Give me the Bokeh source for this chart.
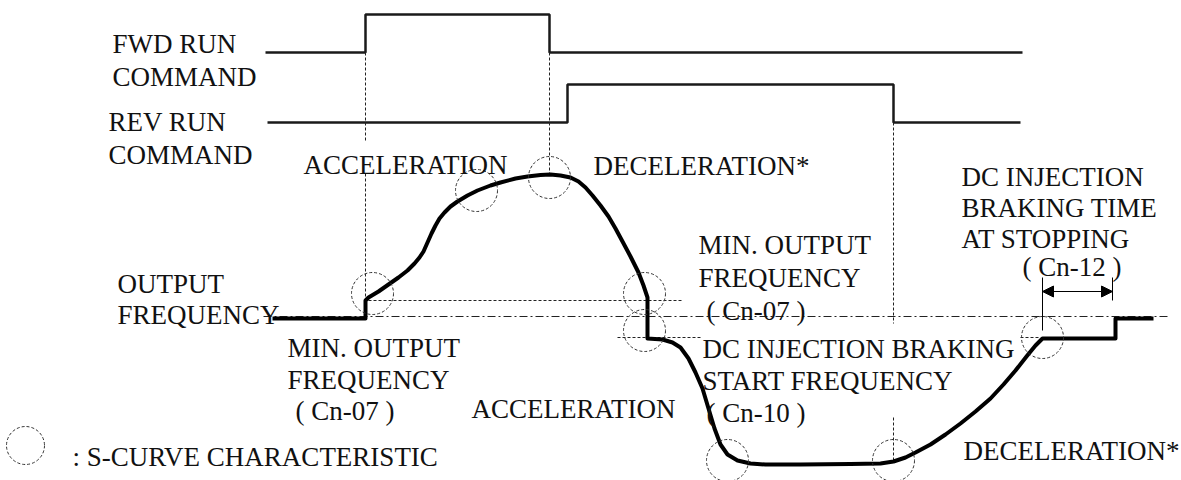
from bokeh.plotting import figure
from bokeh.models import Range1d, Arrow, NormalHead, ColumnDataSource
from bokeh.core.properties import value
from bokeh.embed import file_html
from bokeh.resources import INLINE

# ---- data (diagram units = screen pixels of the reference) ----
fwd_t = [265, 365, 365, 549, 549, 1022]
fwd_level = [52, 52, 14, 14, 52, 52]
rev_t = [267, 567, 567, 893, 893, 1020]
rev_level = [122, 122, 84, 84, 122, 122]

freq_t = [272, 365, 365, 368, 378, 388, 398, 407, 414, 419, 423, 427, 431, 435, 439, 444,
          450, 457, 467, 477, 490, 500, 515, 527, 540, 550, 560, 570, 578, 585, 592, 600,
          608, 615, 622, 630, 638, 643, 647, 647, 662, 672, 680, 688, 695, 702, 708, 714,
          720, 727, 737, 750, 765, 800, 850, 880, 893, 905, 915, 930, 945, 960, 975, 990,
          1003, 1015, 1026, 1035, 1042, 1115, 1115, 1153]
freq_level = [318, 318, 300, 297, 291, 284, 277, 270, 263, 257, 251, 242, 233, 225, 218, 212,
              206, 201, 195, 190, 185, 182, 178, 176, 174.5, 174, 175, 177, 181, 187, 195, 205,
              216, 228, 241, 256, 272, 285, 297, 338, 339, 342, 347, 358, 372, 388, 408, 428,
              444, 454, 460, 463, 464, 464, 463.5, 463, 461, 457, 452, 444, 434, 423, 411, 398,
              384, 370, 356, 345, 338, 338, 318, 318]

zero_level = 316
zero_t = [263, 1168]
min_freq_level = 300
min_freq_t = [368, 682]
dc_start_level = 337
dc_start_t1 = [617, 700]
dc_start_t2 = [1020, 1040]

marker_x = [365, 365, 549, 893, 893]
marker_y0 = [52, 173, 52, 122, 417]
marker_y1 = [140, 300, 174, 323, 462]

scurve_x = [372, 476, 549, 644, 644, 727, 893, 1042]
scurve_y = [293, 190, 177, 293, 330, 460, 460, 337]
scurve_r = 21

brake_t = [1042, 1112]
brake_tick_top = 277
brake_tick_bottom = [330, 300]
brake_arrow_level = 291

labels = ["FWD RUN", "COMMAND", "REV RUN", "COMMAND", "ACCELERATION", "DECELERATION*",
          "DC INJECTION", "BRAKING TIME", "AT STOPPING", "( Cn-12 )",
          "MIN. OUTPUT", "FREQUENCY", "( Cn-07 )", "OUTPUT", "FREQUENCY",
          "MIN. OUTPUT", "FREQUENCY", "( Cn-07 )", "ACCELERATION",
          "DC INJECTION BRAKING", "START FREQUENCY", "( Cn-10 )", "DECELERATION*",
          ": S-CURVE CHARACTERISTIC"]
label_x = [112, 112, 108, 108, 303, 593, 961, 961, 961, 1022,
           698, 698, 706, 117, 117, 287, 287, 295, 471,
           702, 702, 706, 963, 72]
label_y = [43, 76, 121, 154, 164, 165, 176, 207, 238, 266,
           244, 277, 310, 283, 314, 347, 379, 410, 408,
           348, 380, 412, 450, 456]

legend_x = [25]
legend_y = [445]

W, H = 1181, 480
p = figure(width=W, height=H, x_range=Range1d(0, W), y_range=Range1d(H, 0),
           output_backend="svg", toolbar_location=None, min_border=0,
           x_axis_location=None, y_axis_location=None)
p.grid.visible = False
p.outline_line_color = None
p.background_fill_color = "white"
p.border_fill_color = "white"

# command signals
p.line(fwd_t, fwd_level, line_color="#1a1a1a", line_width=2.5)
p.line(rev_t, rev_level, line_color="#1a1a1a", line_width=2.5)

# reference lines
p.line(zero_t, [zero_level] * 2, line_color="#222", line_width=1, line_dash="8 3 2 3")
p.line(min_freq_t, [min_freq_level] * 2, line_color="#222", line_width=1, line_dash="3 2")
p.line(dc_start_t1, [dc_start_level] * 2, line_color="#222", line_width=1, line_dash="3 2")
p.line(dc_start_t2, [dc_start_level] * 2, line_color="#222", line_width=1, line_dash="3 2")
p.segment(x0=marker_x, y0=marker_y0, x1=marker_x, y1=marker_y1,
          line_color="#222", line_width=1, line_dash="3 2")

# output frequency
p.line(freq_t, freq_level, line_color="black", line_width=4, line_join="round")

# s-curve circles
p.circle(scurve_x, scurve_y, radius=scurve_r, fill_color=None, line_color="#333",
         line_width=1, line_dash="3 2")
p.circle(legend_x, legend_y, radius=19, fill_color=None, line_color="#333",
         line_width=1, line_dash="3 2")

# braking time arrow
p.segment(x0=brake_t, y0=[brake_tick_top] * 2, x1=brake_t, y1=brake_tick_bottom,
          line_color="black", line_width=1)
p.add_layout(Arrow(x_start=brake_t[0], y_start=brake_arrow_level,
                   x_end=brake_t[1], y_end=brake_arrow_level,
                   line_color="black", line_width=1,
                   start=NormalHead(size=11, fill_color="black", line_color="black"),
                   end=NormalHead(size=11, fill_color="black", line_color="black")))

src = ColumnDataSource(dict(x=label_x, y=label_y, t=labels))
p.text(x="x", y="y", text="t", source=src, text_font=value("Liberation Serif"),
       text_font_size="27px", text_color="#111", text_baseline="alphabetic",
       text_align="left")

open("out.html", "w").write(file_html(p, INLINE))
